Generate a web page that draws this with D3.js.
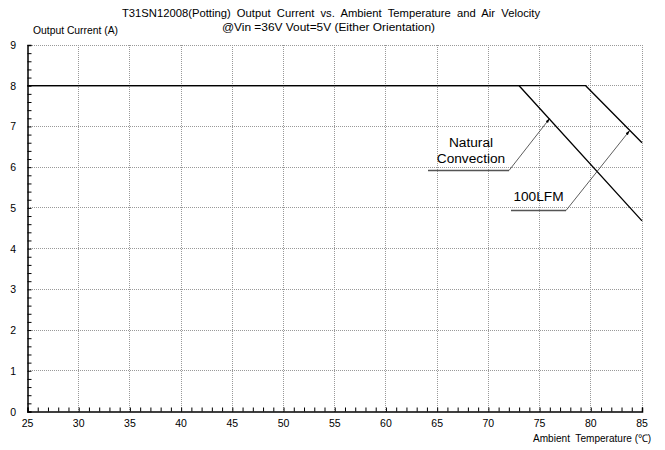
<!DOCTYPE html>
<html><head><meta charset="utf-8">
<script src="https://cdn.jsdelivr.net/npm/d3@7"></script>
<style>body{margin:0;background:#fff}svg{display:block}text{font-family:"Liberation Sans",Arial,sans-serif;fill:#000;white-space:pre}</style>
</head><body><svg id="c" width="665" height="450"></svg>
<script>
const xTicks = [25,30,35,40,45,50,55,60,65,70,75,80,85];
const yTicks = [0,1,2,3,4,5,6,7,8,9];
const naturalX = [25, 73, 85];
const naturalY = [8, 8, 4.68];
const lfmX = [25, 79.5, 85];
const lfmY = [8, 8, 6.6];
const titleLines = ["T31SN12008(Potting)  Output  Current  vs.  Ambient  Temperature  and  Air  Velocity", "@Vin =36V Vout=5V (Either Orientation)"];
const yLabel = "Output Current (A)";
const xLabel = "Ambient  Temperature (\u2103)";
const annotations = [
  {lines:["Natural","Convection"], pointX:76, pointY:7.2},
  {lines:["100LFM"], pointX:83.8, pointY:6.9}
];

const svg = d3.select("#c");
const L=27.5, R=642, T=45, B=411.5;
const x = d3.scaleLinear().domain([25,85]).range([L,R]);
const y = d3.scaleLinear().domain([0,9]).range([B,T]);

// grid
svg.append("g").selectAll("line").data(xTicks.slice(1)).join("line")
  .attr("x1",d=>x(d)).attr("x2",d=>x(d)).attr("y1",T).attr("y2",B)
  .attr("stroke","#999").attr("stroke-width",1).attr("stroke-dasharray","1,1").attr("shape-rendering","crispEdges");
svg.append("g").selectAll("line").data(yTicks.slice(1)).join("line")
  .attr("x1",L).attr("x2",R).attr("y1",d=>y(d)).attr("y2",d=>y(d))
  .attr("stroke","#999").attr("stroke-width",1).attr("stroke-dasharray","1,1").attr("shape-rendering","crispEdges");

// axes
const xAxis = d3.axisBottom(x).tickValues(d3.range(25,86,1)).tickSize(-4).tickFormat("");
const gx = svg.append("g").attr("transform",`translate(0,${B})`).call(xAxis);
gx.select(".domain").attr("stroke","#000").attr("stroke-width",1.5);
gx.selectAll(".tick line").attr("stroke","#000");
svg.append("g").selectAll("text").data(xTicks).join("text")
  .attr("x",d=>x(d)).attr("y",B+15.5).attr("text-anchor","middle").attr("font-size",10.5).text(d=>d);

const yAxis = d3.axisLeft(y).tickValues(d3.range(0,9.01,0.2)).tickSize(-4).tickFormat("");
const gy = svg.append("g").attr("transform",`translate(${L},0)`).call(yAxis);
gy.select(".domain").attr("stroke","#000").attr("stroke-width",1.5);
gy.selectAll(".tick line").attr("stroke","#000");
svg.append("g").selectAll("text").data(yTicks).join("text")
  .attr("x",16).attr("y",d=>y(d)+4).attr("text-anchor","end").attr("font-size",10.5).text(d=>d);

// curves
const line = d3.line().x(d=>x(d[0])).y(d=>y(d[1]));
svg.append("path").datum(naturalX.map((v,i)=>[v,naturalY[i]])).attr("d",line)
  .attr("fill","none").attr("stroke","#000").attr("stroke-width",1.3);
svg.append("path").datum(lfmX.map((v,i)=>[v,lfmY[i]])).attr("d",line)
  .attr("fill","none").attr("stroke","#000").attr("stroke-width",1.3);

// annotations
const defs = svg.append("defs");
defs.append("marker").attr("id","ah").attr("viewBox","0 0 10 10").attr("refX",10).attr("refY",5)
  .attr("markerWidth",6).attr("markerHeight",6).attr("orient","auto")
  .append("path").attr("d","M0,2 L10,5 L0,8 Z").attr("fill","#000");

const ann1 = annotations[0];
svg.append("text").attr("x",471).attr("y",147).attr("text-anchor","middle").attr("font-size",13.7).text(ann1.lines[0]);
svg.append("text").attr("x",471).attr("y",162.5).attr("text-anchor","middle").attr("font-size",13.7).text(ann1.lines[1]);
svg.append("line").attr("x1",428).attr("x2",509).attr("y1",170.5).attr("y2",170.5).attr("stroke","#555").attr("stroke-width",1.5);
svg.append("line").attr("x1",509).attr("y1",170.5).attr("x2",x(ann1.pointX)).attr("y2",y(ann1.pointY))
  .attr("stroke","#333").attr("stroke-width",0.8).attr("marker-end","url(#ah)");

const ann2 = annotations[1];
svg.append("text").attr("x",538.5).attr("y",200.5).attr("text-anchor","middle").attr("font-size",13.7).text(ann2.lines[0]);
svg.append("line").attr("x1",511).attr("x2",566).attr("y1",210.5).attr("y2",210.5).attr("stroke","#555").attr("stroke-width",1.5);
svg.append("line").attr("x1",566).attr("y1",210.5).attr("x2",x(ann2.pointX)).attr("y2",y(ann2.pointY))
  .attr("stroke","#333").attr("stroke-width",0.8).attr("marker-end","url(#ah)");

// titles
svg.append("text").attr("x",331).attr("y",17).attr("text-anchor","middle").attr("font-size",11.5)
  .attr("textLength",418).attr("lengthAdjust","spacingAndGlyphs").text(titleLines[0]);
svg.append("text").attr("x",328.5).attr("y",31).attr("text-anchor","middle").attr("font-size",11.5)
  .attr("textLength",213).attr("lengthAdjust","spacingAndGlyphs").text(titleLines[1]);
svg.append("text").attr("x",33).attr("y",33.5).attr("font-size",10.3)
  .attr("textLength",85).attr("lengthAdjust","spacingAndGlyphs").text(yLabel);
svg.append("text").attr("x",651).attr("y",442).attr("text-anchor","end").attr("font-size",10.5)
  .attr("textLength",118).attr("lengthAdjust","spacingAndGlyphs").text(xLabel);
</script></body></html>
